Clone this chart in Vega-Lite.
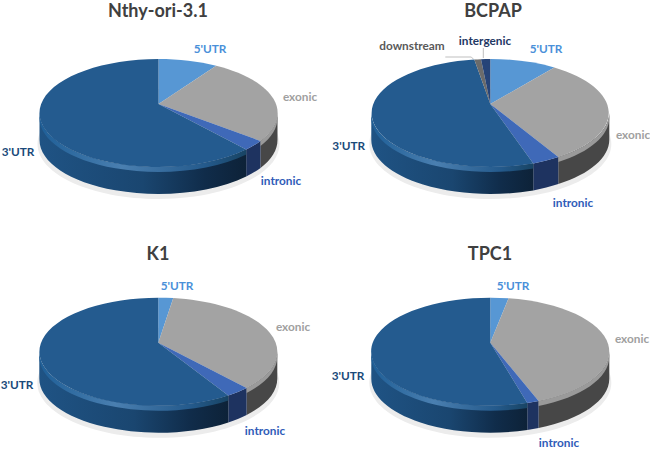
{"$schema":"https://vega.github.io/schema/vega-lite/v6.json","padding":0,"autosize":{"type":"pad"},"background":"white","columns":2,"spacing":0,
"config":{"view":{"stroke":null},"point":{"filled":true,"opacity":1,"strokeWidth":0},"text":{"font":"Lato","fontWeight":"bold","align":"center","baseline":"middle"}},
"resolve":{"scale":{"shape":"independent","color":"independent"}},
"datasets":{
"p1":[{"slice":"5'UTR","share":9},{"slice":"exonic","share":27},{"slice":"intronic","share":3},{"slice":"3'UTR","share":61}],
"p2":[{"slice":"5'UTR","share":10},{"slice":"exonic","share":32},{"slice":"intronic","share":4},{"slice":"3'UTR","share":51},{"slice":"downstream","share":1},{"slice":"intergenic","share":2}],
"p3":[{"slice":"5'UTR","share":3},{"slice":"exonic","share":36},{"slice":"intronic","share":4},{"slice":"3'UTR","share":57}],
"p4":[{"slice":"5'UTR","share":3},{"slice":"exonic","share":41},{"slice":"intronic","share":1.5},{"slice":"3'UTR","share":54.5}]},
"concat":[
{"width":325,"height":225,"data":{"name":"p1"},
"encoding":{"x":{"datum":157.5,"type":"quantitative","scale":{"domain":[0,325]},"axis":null},"y":{"datum":104,"type":"quantitative","scale":{"domain":[225,0]},"axis":null},"size":{"value":4}},
"layer":[
{"transform":[{"filter":{"field":"slice","equal":"3'UTR"}}],"mark":{"type":"point","shape":"M-121 40A121 55 0 1 0 121 40A121 55 0 1 0 -121 40Z","fill":"#ececec"}},
{"transform":[{"filter":{"field":"slice","equal":"exonic"}}],"mark":{"type":"point","shape":"M119 9A119 54 0 0 1 102 37L102 64A119 54 0 0 0 119 36Z","fill":"#474747"}},
{"transform":[{"filter":{"field":"slice","equal":"intronic"}}],"mark":{"type":"point","shape":"M102 37A119 54 0 0 1 87.7 45.5L87.7 72.5A119 54 0 0 0 102 64Z","fill":"#1e3360"}},
{"transform":[{"filter":{"field":"slice","equal":"3'UTR"}}],"mark":{"type":"point","shape":"M87.7 45.5A119 54 0 0 1 -119 9L-119 36A119 54 0 0 0 87.7 72.5Z","fill":{"gradient":"linear","x1":0,"y1":0,"x2":1,"y2":0,"stops":[{"offset":0,"color":"#1f5384"},{"offset":0.5,"color":"#1a4670"},{"offset":0.8,"color":"#102c4a"},{"offset":1,"color":"#0d2238"}]}}},
{"transform":[{"filter":{"field":"slice","equal":"3'UTR"}}],"mark":{"type":"point","shape":"M87.7 45.5A119 54 0 0 1 -119 9L-119 14A119 54 0 0 0 87.7 50.5Z","fill":{"gradient":"linear","x1":0,"y1":0,"x2":1,"y2":0,"stops":[{"offset":0,"color":"#1f5f97"},{"offset":0.4,"color":"#4a7fb0"},{"offset":0.8,"color":"#245a8c"},{"offset":1,"color":"#184464"}]}}},
{"transform":[{"filter":{"field":"slice","equal":"exonic"}}],"mark":{"type":"point","shape":"M119 9A119 54 0 0 1 102 37L102 42A119 54 0 0 0 119 14Z","fill":"#9a9a9a"}},
{"mark":{"type":"point"},"encoding":{"tooltip":{"field":"share","type":"quantitative"},"shape":{"field":"slice","type":"nominal","legend":null,"scale":{"domain":["5'UTR","exonic","intronic","3'UTR"],"range":["M0 0L0 -45A119 54 0 0 1 57.7 -38.2Z","M0 0L57.7 -38.2A119 54 0 0 1 102 37Z","M0 0L102 37A119 54 0 0 1 87.7 45.5Z","M0 0L87.7 45.5A119 54 0 1 1 0 -45Z"]}},"color":{"field":"slice","type":"nominal","legend":null,"scale":{"domain":["5'UTR","exonic","intronic","3'UTR"],"range":["#5797d4","#a3a3a3","#3f69b8","#245b8f"]}}}},
{"transform":[{"filter":{"field":"slice","equal":"5'UTR"}}],"mark":{"type":"text","color":"#4a90d9"},"encoding":{"size":{"value":11.8},"x":{"datum":209,"type":"quantitative"},"y":{"datum":48.7,"type":"quantitative"},"text":{"field":"slice"}}},
{"transform":[{"filter":{"field":"slice","equal":"exonic"}}],"mark":{"type":"text","color":"#a0a0a0"},"encoding":{"size":{"value":11.8},"x":{"datum":299,"type":"quantitative"},"y":{"datum":97,"type":"quantitative"},"text":{"field":"slice"}}},
{"transform":[{"filter":{"field":"slice","equal":"3'UTR"}}],"mark":{"type":"text","color":"#1a4a7a"},"encoding":{"size":{"value":11.8},"x":{"datum":17,"type":"quantitative"},"y":{"datum":152,"type":"quantitative"},"text":{"field":"slice"}}},
{"transform":[{"filter":{"field":"slice","equal":"intronic"}}],"mark":{"type":"text","color":"#2f5cb8"},"encoding":{"size":{"value":11.8},"x":{"datum":280,"type":"quantitative"},"y":{"datum":181,"type":"quantitative"},"text":{"field":"slice"}}},
{"transform":[{"filter":{"field":"slice","equal":"5'UTR"}}],"mark":{"type":"text","color":"#404040"},"encoding":{"size":{"value":18},"x":{"datum":157,"type":"quantitative"},"y":{"datum":11.5,"type":"quantitative"},"text":{"datum":"Nthy-ori-3.1"}}}
]},
{"width":325,"height":225,"data":{"name":"p2"},
"encoding":{"x":{"datum":164.3,"type":"quantitative","scale":{"domain":[0,325]},"axis":null},"y":{"datum":104,"type":"quantitative","scale":{"domain":[225,0]},"axis":null},"size":{"value":4}},
"layer":[
{"transform":[{"filter":{"field":"slice","equal":"3'UTR"}}],"mark":{"type":"point","shape":"M-121 40A121 55 0 1 0 121 40A121 55 0 1 0 -121 40Z","fill":"#ececec"}},
{"transform":[{"filter":{"field":"slice","equal":"exonic"}}],"mark":{"type":"point","shape":"M119 9A119 54 0 0 1 68 53L68 80A119 54 0 0 0 119 36Z","fill":"#474747"}},
{"transform":[{"filter":{"field":"slice","equal":"intronic"}}],"mark":{"type":"point","shape":"M68 53A119 54 0 0 1 43 59.4L43 86.4A119 54 0 0 0 68 80Z","fill":"#1e3360"}},
{"transform":[{"filter":{"field":"slice","equal":"3'UTR"}}],"mark":{"type":"point","shape":"M43 59.4A119 54 0 0 1 -119 9L-119 36A119 54 0 0 0 43 86.4Z","fill":{"gradient":"linear","x1":0,"y1":0,"x2":1,"y2":0,"stops":[{"offset":0,"color":"#1f5384"},{"offset":0.5,"color":"#1a4670"},{"offset":0.8,"color":"#102c4a"},{"offset":1,"color":"#0d2238"}]}}},
{"transform":[{"filter":{"field":"slice","equal":"3'UTR"}}],"mark":{"type":"point","shape":"M43 59.4A119 54 0 0 1 -119 9L-119 14A119 54 0 0 0 43 64.4Z","fill":{"gradient":"linear","x1":0,"y1":0,"x2":1,"y2":0,"stops":[{"offset":0,"color":"#1f5f97"},{"offset":0.4,"color":"#4a7fb0"},{"offset":0.8,"color":"#245a8c"},{"offset":1,"color":"#184464"}]}}},
{"transform":[{"filter":{"field":"slice","equal":"exonic"}}],"mark":{"type":"point","shape":"M119 9A119 54 0 0 1 68 53L68 58A119 54 0 0 0 119 14Z","fill":"#9a9a9a"}},
{"mark":{"type":"point"},"encoding":{"tooltip":{"field":"share","type":"quantitative"},"shape":{"field":"slice","type":"nominal","legend":null,"scale":{"domain":["5'UTR","exonic","intronic","3'UTR","downstream","intergenic"],"range":["M0 0L0 -45A119 54 0 0 1 64 -36.5Z","M0 0L64 -36.5A119 54 0 0 1 68 53Z","M0 0L68 53A119 54 0 0 1 43 59.4Z","M0 0L43 59.4A119 54 0 1 1 -16 -44.5Z","M0 0L-16 -44.5A119 54 0 0 1 -9.3 -44.8Z","M0 0L-9.3 -44.8A119 54 0 0 1 0 -45Z"]}},"color":{"field":"slice","type":"nominal","legend":null,"scale":{"domain":["5'UTR","exonic","intronic","3'UTR","downstream","intergenic"],"range":["#5797d4","#a3a3a3","#3f69b8","#245b8f","#6b6b6b","#264478"]}}}},
{"transform":[{"filter":{"field":"slice","equal":"downstream"}}],"mark":{"type":"point","filled":false,"shape":"M-45 -47L-19 -47L-17 -45","stroke":"#bfbfbf","strokeWidth":1}},
{"transform":[{"filter":{"field":"slice","equal":"intergenic"}}],"mark":{"type":"point","filled":false,"shape":"M-7 -56L-7 -46","stroke":"#bfbfbf","strokeWidth":1}},
{"transform":[{"filter":{"field":"slice","equal":"5'UTR"}}],"mark":{"type":"text","color":"#4a90d9"},"encoding":{"size":{"value":11.8},"x":{"datum":220,"type":"quantitative"},"y":{"datum":49,"type":"quantitative"},"text":{"field":"slice"}}},
{"transform":[{"filter":{"field":"slice","equal":"exonic"}}],"mark":{"type":"text","color":"#a0a0a0"},"encoding":{"size":{"value":11.8},"x":{"datum":307,"type":"quantitative"},"y":{"datum":135,"type":"quantitative"},"text":{"field":"slice"}}},
{"transform":[{"filter":{"field":"slice","equal":"3'UTR"}}],"mark":{"type":"text","color":"#1a4a7a"},"encoding":{"size":{"value":11.8},"x":{"datum":22.7,"type":"quantitative"},"y":{"datum":145.7,"type":"quantitative"},"text":{"field":"slice"}}},
{"transform":[{"filter":{"field":"slice","equal":"intronic"}}],"mark":{"type":"text","color":"#2f5cb8"},"encoding":{"size":{"value":11.8},"x":{"datum":247,"type":"quantitative"},"y":{"datum":203,"type":"quantitative"},"text":{"field":"slice"}}},
{"transform":[{"filter":{"field":"slice","equal":"downstream"}}],"mark":{"type":"text","color":"#595959"},"encoding":{"size":{"value":11.8},"x":{"datum":86,"type":"quantitative"},"y":{"datum":46,"type":"quantitative"},"text":{"field":"slice"}}},
{"transform":[{"filter":{"field":"slice","equal":"intergenic"}}],"mark":{"type":"text","color":"#1f3864"},"encoding":{"size":{"value":11.8},"x":{"datum":159,"type":"quantitative"},"y":{"datum":40.7,"type":"quantitative"},"text":{"field":"slice"}}},
{"transform":[{"filter":{"field":"slice","equal":"5'UTR"}}],"mark":{"type":"text","color":"#404040"},"encoding":{"size":{"value":18},"x":{"datum":167,"type":"quantitative"},"y":{"datum":11.5,"type":"quantitative"},"text":{"datum":"BCPAP"}}}
]},
{"width":325,"height":225,"data":{"name":"p3"},
"encoding":{"x":{"datum":157.3,"type":"quantitative","scale":{"domain":[0,325]},"axis":null},"y":{"datum":117.7,"type":"quantitative","scale":{"domain":[225,0]},"axis":null},"size":{"value":4}},
"layer":[
{"transform":[{"filter":{"field":"slice","equal":"3'UTR"}}],"mark":{"type":"point","shape":"M-121 40A121 55 0 1 0 121 40A121 55 0 1 0 -121 40Z","fill":"#ececec"}},
{"transform":[{"filter":{"field":"slice","equal":"exonic"}}],"mark":{"type":"point","shape":"M119 9A119 54 0 0 1 88.3 45.2L88.3 72.2A119 54 0 0 0 119 36Z","fill":"#474747"}},
{"transform":[{"filter":{"field":"slice","equal":"intronic"}}],"mark":{"type":"point","shape":"M88.3 45.2A119 54 0 0 1 70 52.7L70 79.7A119 54 0 0 0 88.3 72.2Z","fill":"#1e3360"}},
{"transform":[{"filter":{"field":"slice","equal":"3'UTR"}}],"mark":{"type":"point","shape":"M70 52.7A119 54 0 0 1 -119 9L-119 36A119 54 0 0 0 70 79.7Z","fill":{"gradient":"linear","x1":0,"y1":0,"x2":1,"y2":0,"stops":[{"offset":0,"color":"#1f5384"},{"offset":0.5,"color":"#1a4670"},{"offset":0.8,"color":"#102c4a"},{"offset":1,"color":"#0d2238"}]}}},
{"transform":[{"filter":{"field":"slice","equal":"3'UTR"}}],"mark":{"type":"point","shape":"M70 52.7A119 54 0 0 1 -119 9L-119 14A119 54 0 0 0 70 57.7Z","fill":{"gradient":"linear","x1":0,"y1":0,"x2":1,"y2":0,"stops":[{"offset":0,"color":"#1f5f97"},{"offset":0.4,"color":"#4a7fb0"},{"offset":0.8,"color":"#245a8c"},{"offset":1,"color":"#184464"}]}}},
{"transform":[{"filter":{"field":"slice","equal":"exonic"}}],"mark":{"type":"point","shape":"M119 9A119 54 0 0 1 88.3 45.2L88.3 50.2A119 54 0 0 0 119 14Z","fill":"#9a9a9a"}},
{"mark":{"type":"point"},"encoding":{"tooltip":{"field":"share","type":"quantitative"},"shape":{"field":"slice","type":"nominal","legend":null,"scale":{"domain":["5'UTR","exonic","intronic","3'UTR"],"range":["M0 0L0 -45A119 54 0 0 1 15 -44.6Z","M0 0L15 -44.6A119 54 0 0 1 88.3 45.2Z","M0 0L88.3 45.2A119 54 0 0 1 70 52.7Z","M0 0L70 52.7A119 54 0 1 1 0 -45Z"]}},"color":{"field":"slice","type":"nominal","legend":null,"scale":{"domain":["5'UTR","exonic","intronic","3'UTR"],"range":["#5797d4","#a3a3a3","#3f69b8","#245b8f"]}}}},
{"transform":[{"filter":{"field":"slice","equal":"5'UTR"}}],"mark":{"type":"text","color":"#4a90d9"},"encoding":{"size":{"value":11.8},"x":{"datum":176,"type":"quantitative"},"y":{"datum":61,"type":"quantitative"},"text":{"field":"slice"}}},
{"transform":[{"filter":{"field":"slice","equal":"exonic"}}],"mark":{"type":"text","color":"#a0a0a0"},"encoding":{"size":{"value":11.8},"x":{"datum":292,"type":"quantitative"},"y":{"datum":102,"type":"quantitative"},"text":{"field":"slice"}}},
{"transform":[{"filter":{"field":"slice","equal":"3'UTR"}}],"mark":{"type":"text","color":"#1a4a7a"},"encoding":{"size":{"value":11.8},"x":{"datum":16,"type":"quantitative"},"y":{"datum":160,"type":"quantitative"},"text":{"field":"slice"}}},
{"transform":[{"filter":{"field":"slice","equal":"intronic"}}],"mark":{"type":"text","color":"#2f5cb8"},"encoding":{"size":{"value":11.8},"x":{"datum":264,"type":"quantitative"},"y":{"datum":206,"type":"quantitative"},"text":{"field":"slice"}}},
{"transform":[{"filter":{"field":"slice","equal":"5'UTR"}}],"mark":{"type":"text","color":"#404040"},"encoding":{"size":{"value":18},"x":{"datum":157,"type":"quantitative"},"y":{"datum":30,"type":"quantitative"},"text":{"datum":"K1"}}}
]},
{"width":325,"height":225,"data":{"name":"p4"},
"encoding":{"x":{"datum":164.3,"type":"quantitative","scale":{"domain":[0,325]},"axis":null},"y":{"datum":117.7,"type":"quantitative","scale":{"domain":[225,0]},"axis":null},"size":{"value":4}},
"layer":[
{"transform":[{"filter":{"field":"slice","equal":"3'UTR"}}],"mark":{"type":"point","shape":"M-121 40A121 55 0 1 0 121 40A121 55 0 1 0 -121 40Z","fill":"#ececec"}},
{"transform":[{"filter":{"field":"slice","equal":"exonic"}}],"mark":{"type":"point","shape":"M119 9A119 54 0 0 1 48.3 58.3L48.3 85.3A119 54 0 0 0 119 36Z","fill":"#474747"}},
{"transform":[{"filter":{"field":"slice","equal":"intronic"}}],"mark":{"type":"point","shape":"M48.3 58.3A119 54 0 0 1 37 60.3L37 87.3A119 54 0 0 0 48.3 85.3Z","fill":"#1e3360"}},
{"transform":[{"filter":{"field":"slice","equal":"3'UTR"}}],"mark":{"type":"point","shape":"M37 60.3A119 54 0 0 1 -119 9L-119 36A119 54 0 0 0 37 87.3Z","fill":{"gradient":"linear","x1":0,"y1":0,"x2":1,"y2":0,"stops":[{"offset":0,"color":"#1f5384"},{"offset":0.5,"color":"#1a4670"},{"offset":0.8,"color":"#102c4a"},{"offset":1,"color":"#0d2238"}]}}},
{"transform":[{"filter":{"field":"slice","equal":"3'UTR"}}],"mark":{"type":"point","shape":"M37 60.3A119 54 0 0 1 -119 9L-119 14A119 54 0 0 0 37 65.3Z","fill":{"gradient":"linear","x1":0,"y1":0,"x2":1,"y2":0,"stops":[{"offset":0,"color":"#1f5f97"},{"offset":0.4,"color":"#4a7fb0"},{"offset":0.8,"color":"#245a8c"},{"offset":1,"color":"#184464"}]}}},
{"transform":[{"filter":{"field":"slice","equal":"exonic"}}],"mark":{"type":"point","shape":"M119 9A119 54 0 0 1 48.3 58.3L48.3 63.3A119 54 0 0 0 119 14Z","fill":"#9a9a9a"}},
{"mark":{"type":"point"},"encoding":{"tooltip":{"field":"share","type":"quantitative"},"shape":{"field":"slice","type":"nominal","legend":null,"scale":{"domain":["5'UTR","exonic","intronic","3'UTR"],"range":["M0 0L0 -45A119 54 0 0 1 18.3 -44.4Z","M0 0L18.3 -44.4A119 54 0 0 1 48.3 58.3Z","M0 0L48.3 58.3A119 54 0 0 1 37 60.3Z","M0 0L37 60.3A119 54 0 1 1 0 -45Z"]}},"color":{"field":"slice","type":"nominal","legend":null,"scale":{"domain":["5'UTR","exonic","intronic","3'UTR"],"range":["#5797d4","#a3a3a3","#3f69b8","#245b8f"]}}}},
{"transform":[{"filter":{"field":"slice","equal":"5'UTR"}}],"mark":{"type":"text","color":"#4a90d9"},"encoding":{"size":{"value":11.8},"x":{"datum":187,"type":"quantitative"},"y":{"datum":61,"type":"quantitative"},"text":{"field":"slice"}}},
{"transform":[{"filter":{"field":"slice","equal":"exonic"}}],"mark":{"type":"text","color":"#a0a0a0"},"encoding":{"size":{"value":11.8},"x":{"datum":306,"type":"quantitative"},"y":{"datum":114,"type":"quantitative"},"text":{"field":"slice"}}},
{"transform":[{"filter":{"field":"slice","equal":"3'UTR"}}],"mark":{"type":"text","color":"#1a4a7a"},"encoding":{"size":{"value":11.8},"x":{"datum":22,"type":"quantitative"},"y":{"datum":151,"type":"quantitative"},"text":{"field":"slice"}}},
{"transform":[{"filter":{"field":"slice","equal":"intronic"}}],"mark":{"type":"text","color":"#2f5cb8"},"encoding":{"size":{"value":11.8},"x":{"datum":233,"type":"quantitative"},"y":{"datum":218,"type":"quantitative"},"text":{"field":"slice"}}},
{"transform":[{"filter":{"field":"slice","equal":"5'UTR"}}],"mark":{"type":"text","color":"#404040"},"encoding":{"size":{"value":18},"x":{"datum":164,"type":"quantitative"},"y":{"datum":30,"type":"quantitative"},"text":{"datum":"TPC1"}}}
]}
]}
